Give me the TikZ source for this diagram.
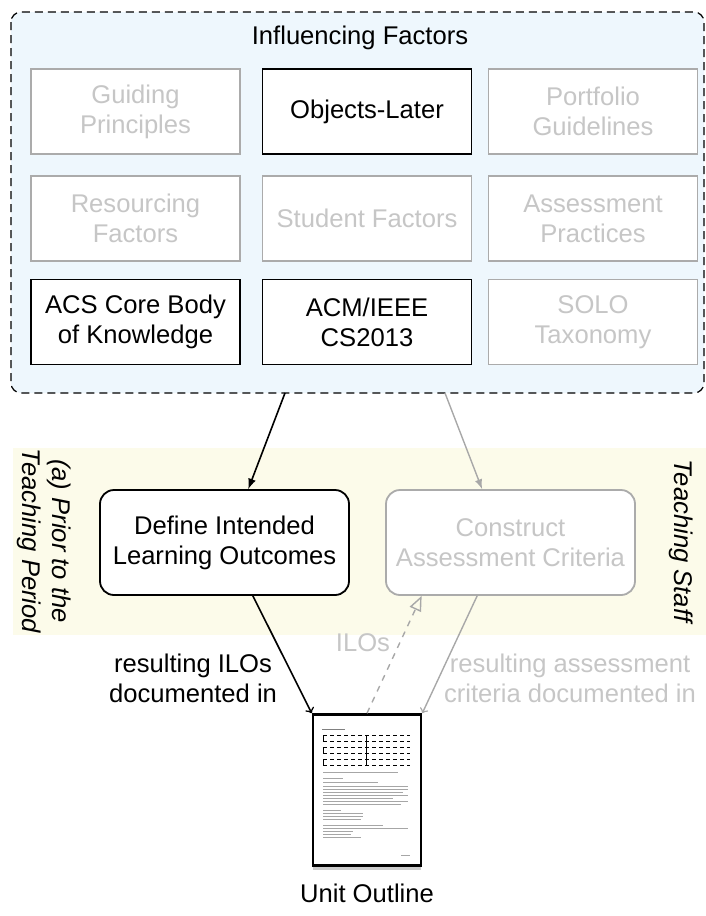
\documentclass[tikz,border=0pt]{standalone}
\usepackage{fontspec}
\setmainfont{Liberation Sans}
\usetikzlibrary{arrows,shadows}

\definecolor{factorblue}{HTML}{EEF7FD}
\definecolor{stageyellow}{HTML}{FCFBEA}
\definecolor{fadeline}{HTML}{ABABAB}
\definecolor{fadetext}{HTML}{C6C6C6}
\definecolor{fadearrow}{HTML}{A8A8A8}

\newcommand{\mainsize}{\fontsize{12.8}{15}\selectfont}

\tikzset{
  factor/.style={draw=black, fill=white, line width=0.9pt, minimum width=104.5pt, minimum height=42.5pt, align=center, font=\mainsize},
  unused/.style={factor, draw=fadeline, line width=0.7pt, text=fadetext},
  activity/.style={draw, fill=white, line width=0.9pt, rounded corners=7pt, minimum width=124.5pt, minimum height=52.5pt, align=center, font=\mainsize},
  label/.style={align=center, font=\mainsize},
}

\begin{document}
\begin{tikzpicture}[x=0.5pt, y=-0.5pt]
\useasboundingbox (0,0) rectangle (706,916);
\draw [dash pattern=on 4pt off 2.5pt, semithick, fill=factorblue, rounded corners=5pt] (11,12) rectangle (704,393); % influencing factors
\fill [stageyellow] (13,448) rectangle (706,635); % teaching period band
\node [label] (title) at (360,38) {Influencing Factors};
\node [unused] (guiding) at (135.5,111.5) {Guiding\\Principles};
\node [factor] (objects) at (367,111.5) {Objects-Later};
\node [unused] (portfolio) at (593,111.5) {Portfolio\\Guidelines};
\node [unused] (resourcing) at (135.5,218.5) {Resourcing\\Factors};
\node [unused] (student) at (367,218.5) {Student Factors};
\node [unused] (assessment) at (593,218.5) {Assessment\\Practices};
\node [factor] (acs) at (135.5,322) {ACS Core Body\\of Knowledge};
\node [factor] (acm) at (367,322) {ACM/IEEE\\CS2013};
\node [unused] (solo) at (593,322) {SOLO\\Taxonomy};
\coordinate (fleft) at (285,393);
\coordinate (fright) at (445,393);
\node [activity] (define) at (224.5,542.5) {Define Intended\\Learning Outcomes};
\node [activity, draw=fadeline, text=fadetext] (construct) at (510.5,542.5) {Construct\\Assessment Criteria};
\node [label, rotate=-90, font=\mainsize\itshape] (stage) at (44,541) {(a) Prior to the\\Teaching Period};
\node [label, rotate=-90, font=\mainsize\itshape] (staff) at (681,541) {Teaching Staff};
\draw [line width=0.8pt, -latex] (fleft) -- (define.66);
\draw [line width=0.7pt, fadearrow, -latex] (fright) -- (construct.118);
% unit outline page
\node [draw, line width=1.3pt, fill=white, drop shadow={shadow xshift=0pt, shadow yshift=-2pt, opacity=0.4}, minimum width=54pt, minimum height=75.5pt] (doc) at (367,790) {};
\draw [line width=0.5pt, gray] (322,729) -- (345,729);
\draw [line width=0.4pt, dash pattern=on 2pt off 1.5pt] (323,735) -- (410,735) (323,741) -- (410,741) (323,747) -- (410,747) (323,753) -- (410,753) (323,759) -- (410,759) (323,765) -- (410,765);
\draw [line width=0.4pt] (323,735) -- (323,741) (323,747) -- (323,753) (323,759) -- (323,765) (366,735) -- (366,765);
\foreach \y/\w in {772/75, 778/20, 782/55, 786/85, 789/85, 792/80, 795/85, 798/70, 801/85, 804/78, 810/18, 813/40, 816/40, 819/38, 825/60, 828/85, 831/30, 834/28, 837/38}
  \draw [line width=0.3pt, gray!70] (323,\y) -- ++(\w,0);
\draw [line width=0.3pt, gray!70] (401,855) -- (410,855);
\node [label] (outline) at (367,893) {Unit Outline};
\draw [line width=0.8pt, -to] (define.-62) -- (doc.north west);
\draw [line width=0.7pt, fadearrow, -to] (construct.-122) -- (doc.north east);
\draw [line width=0.7pt, fadearrow, dashed, -open triangle 45] (doc.north) -- (construct.-149);
\node [label] (ilolabel) at (193,678) {resulting ILOs\\documented in};
\node [label, text=fadetext] (ilos) at (363,643) {ILOs};
\node [label, text=fadetext] (critlabel) at (570,678) {resulting assessment\\criteria documented in};
\end{tikzpicture}
\end{document}
